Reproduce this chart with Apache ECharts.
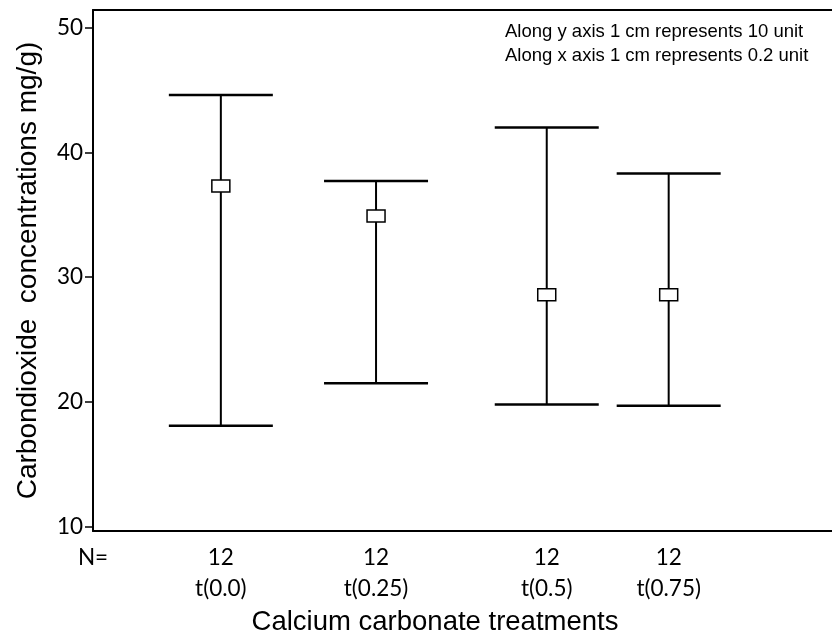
<!DOCTYPE html>
<html>
<head>
<meta charset="utf-8">
<script src="https://cdn.jsdelivr.net/npm/echarts@6/dist/echarts.min.js"></script>
<style>
  html, body { margin: 0; padding: 0; background: #fff; }
  #chart { width: 832px; height: 635px; }
</style>
</head>
<body>
<div id="chart"></div>
<script>
// treatments and their place along the x axis
const treatments = ['t(0.0)', 't(0.25)', 't(0.5)', 't(0.75)'];
const treatmentPos = [17.3, 38.3, 61.4, 77.9];
const sampleN = [12, 12, 12, 12];

// CO2 concentration: mean and error bar ends
const meanVals = [37.3, 34.9, 28.6, 28.6];
const upperVals = [44.6, 37.7, 42.0, 38.3];
const lowerVals = [18.1, 21.5, 19.8, 19.7];

const yTicks = [10, 20, 30, 40, 50];

const barData = treatmentPos.map((x, i) => [x, lowerVals[i], meanVals[i], upperVals[i]]);

const labelFont = 'Lato';
const titleFont = '"Liberation Sans", Arial, sans-serif';

const chart = echarts.init(document.getElementById('chart'));

const option = {
  animation: false,
  grid: {
    left: 93,
    right: 0,
    top: 10,
    bottom: 104,
    containLabel: false,
    outerBoundsMode: 'none',
  },
  xAxis: [
    {
      type: 'value',
      min: 0,
      max: 100,
      position: 'bottom',
      name: 'Calcium carbonate treatments',
      nameLocation: 'middle',
      nameGap: 67,
      nameTextStyle: {
        fontFamily: titleFont,
        fontSize: 27.5,
        color: '#000',
        padding: [0, 55, 0, 0],
      },
      axisLine: { show: true, lineStyle: { color: '#000', width: 2 } },
      axisTick: { show: false },
      splitLine: { show: false },
      axisLabel: {
        customValues: [0].concat(treatmentPos),
        margin: 11,
        fontFamily: labelFont,
        fontSize: 22.5,
        lineHeight: 31,
        color: '#000',
        formatter: (v) => {
          const i = treatmentPos.indexOf(v);
          if (i < 0) return 'N=\n ';
          return sampleN[i] + '\n' + treatments[i];
        },
      },
    },
    {
      type: 'value',
      min: 0,
      max: 100,
      position: 'top',
      axisLine: { show: true, lineStyle: { color: '#000', width: 2 } },
      axisTick: { show: false },
      axisLabel: { show: false },
      splitLine: { show: false },
    },
  ],
  yAxis: {
    type: 'value',
    min: 9.66,
    max: 51.41,
    name: 'Carbondioxide  concentrations mg/g)',
    nameLocation: 'middle',
    nameGap: 51,
    nameTextStyle: {
      fontFamily: titleFont,
      fontSize: 28,
      color: '#000',
    },
    axisLine: { show: true, lineStyle: { color: '#000', width: 2 } },
    axisTick: {
      show: true,
      length: 8,
      customValues: yTicks,
      lineStyle: { color: '#000', width: 1.5 },
    },
    splitLine: { show: false },
    axisLabel: {
      customValues: yTicks,
      margin: 10,
      fontFamily: labelFont,
      fontSize: 22.5,
      color: '#000',
    },
  },
  graphic: [
    {
      type: 'text',
      left: 505,
      top: 20,
      style: {
        text: 'Along y axis 1 cm represents 10 unit\nAlong x axis 1 cm represents 0.2 unit',
        font: '18.5px "Liberation Sans", Arial, sans-serif',
        lineHeight: 24,
        fill: '#000',
      },
    },
  ],
  series: [
    {
      type: 'custom',
      data: barData,
      encode: { x: 0, y: [1, 2, 3] },
      renderItem: (params, api) => {
        const x = api.value(0);
        const lo = api.coord([x, api.value(1)]);
        const mid = api.coord([x, api.value(2)]);
        const hi = api.coord([x, api.value(3)]);
        const hw = 52;
        const line = { stroke: '#000', lineWidth: 2 };
        return {
          type: 'group',
          children: [
            { type: 'line', shape: { x1: hi[0], y1: hi[1], x2: lo[0], y2: lo[1] }, style: line },
            { type: 'line', shape: { x1: hi[0] - hw, y1: hi[1], x2: hi[0] + hw, y2: hi[1] }, style: { stroke: '#000', lineWidth: 2.5 } },
            { type: 'line', shape: { x1: lo[0] - hw, y1: lo[1], x2: lo[0] + hw, y2: lo[1] }, style: { stroke: '#000', lineWidth: 2.5 } },
            {
              type: 'rect',
              shape: { x: mid[0] - 9, y: mid[1] - 6, width: 18, height: 12 },
              style: { fill: '#fff', stroke: '#000', lineWidth: 1.5 },
            },
          ],
        };
      },
    },
  ],
};

chart.setOption(option);
</script>
</body>
</html>
